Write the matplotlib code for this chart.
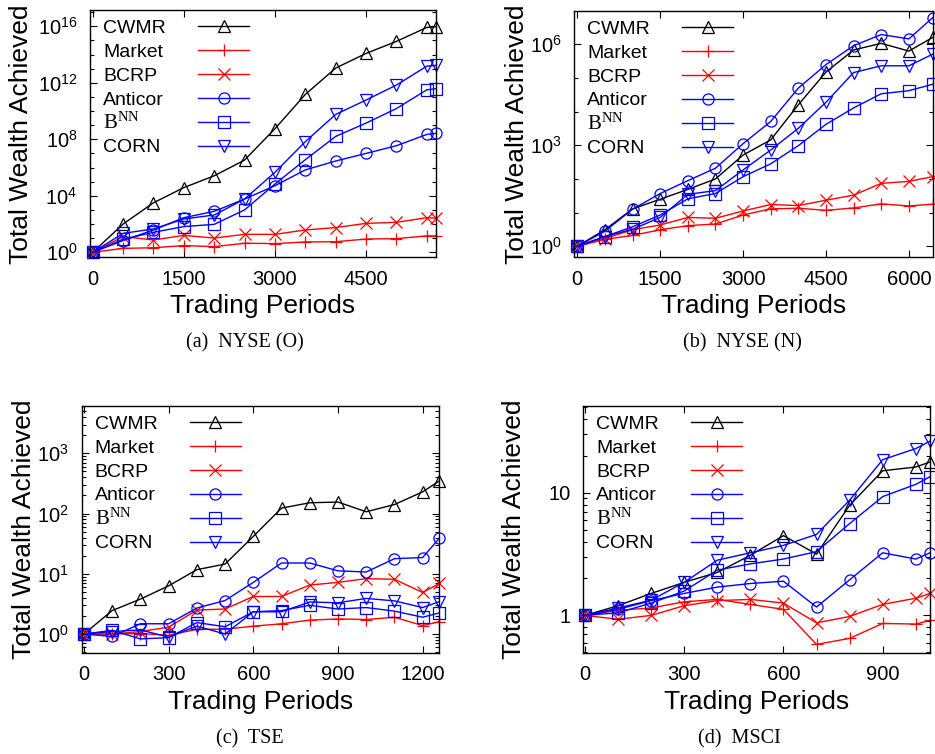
import matplotlib
matplotlib.use('Agg')
import matplotlib.pyplot as plt
from matplotlib import transforms
from matplotlib.ticker import FixedLocator, LogLocator, NullFormatter, FixedFormatter

plt.rcParams['font.family'] = ['Liberation Sans', 'DejaVu Sans']
plt.rcParams['mathtext.fontset'] = 'custom'
plt.rcParams['mathtext.rm'] = 'Liberation Serif'
plt.rcParams['mathtext.it'] = 'Liberation Serif:italic'
plt.rcParams['mathtext.bf'] = 'Liberation Serif:bold'

# strategies, same order in every panel
names = ['CWMR', 'Market', 'BCRP', 'Anticor', r'$\mathrm{B}^{\mathrm{NN}}$', 'CORN']
colors = ['black', 'red', 'red', 'blue', 'blue', 'blue']
markers = ['^', '+', 'x', 'o', 's', 'v']

# (a) NYSE (O)
x_a = [0, 500, 1000, 1500, 2000, 2500, 3000, 3500, 4000, 4500, 5000, 5500, 5651]
cwmr_a = [1, 1.0e2, 3.2e3, 3.8e4, 2.6e5, 3.4e6, 5.6e8, 1.5e11, 1.1e13, 1.2e14, 8.5e14, 8.3e15, 9.3e15]
market_a = [1, 1.9, 2.1, 3.0, 2.5, 4.4, 4.1, 5.4, 5.6, 8.7, 9.3, 14.5, 14.5]
bcrp_a = [1, 12.9, 7.4, 15.8, 10.2, 18.6, 18.6, 38, 56, 112, 132, 282, 257]
anticor_a = [1, 6.8, 38, 282, 794, 5.9e3, 5.2e4, 6.8e5, 2.9e6, 1.0e7, 3.5e7, 2.2e8, 2.6e8]
bnn_a = [1, 8.3, 26, 66, 95, 1.0e3, 6.8e4, 3.6e6, 1.6e8, 1.4e9, 1.5e10, 3.2e11, 3.8e11]
corn_a = [1, 22, 45, 229, 436, 5.9e3, 4.6e5, 6.8e7, 5.8e9, 6.0e10, 6.9e11, 1.5e13, 1.7e13]

# (b) NYSE (N)
x_b = [0, 500, 1000, 1500, 2000, 2500, 3000, 3500, 4000, 4500, 5000, 5500, 6000, 6431]
cwmr_b = [1, 3.1, 12.9, 25, 49, 100, 513, 1.45e3, 1.6e4, 1.5e5, 6.8e5, 1.07e6, 6.3e5, 1.6e6]
market_b = [1, 1.6, 2.1, 3.1, 4.1, 4.6, 8.5, 12.9, 13.5, 11.7, 13.8, 18.2, 15.8, 17.8]
bcrp_b = [1, 1.7, 3.1, 4.3, 7.2, 6.8, 11.2, 17.4, 16.2, 23.4, 33, 74, 85, 117]
anticor_b = [1, 2.8, 12.6, 37, 89, 209, 1.12e3, 5.1e3, 5.0e4, 2.5e5, 9.1e5, 1.95e6, 1.45e6, 6.2e6]
bnn_b = [1, 1.95, 3.8, 8.5, 25.7, 37, 117, 282, 977, 4.2e3, 1.29e4, 3.4e4, 4.2e4, 6.5e4]
corn_b = [1, 1.95, 3.2, 7.2, 35, 45, 186, 724, 3.2e3, 1.9e4, 1.45e5, 2.3e5, 2.3e5, 5.1e5]

# (c) TSE
x_c = [0, 100, 200, 300, 400, 500, 600, 700, 800, 900, 1000, 1100, 1200, 1259]
cwmr_c = [1, 2.45, 3.8, 6.3, 11.7, 14.5, 41.7, 123, 151, 155, 107, 141, 229, 347]
market_c = [1, 1.0, 1.02, 0.95, 1.2, 1.2, 1.35, 1.48, 1.7, 1.78, 1.74, 1.9, 1.38, 1.6]
bcrp_c = [1, 1.0, 1.1, 1.3, 2.5, 2.6, 4.2, 4.2, 6.5, 7.2, 8.3, 8.1, 4.9, 6.9]
anticor_c = [1, 0.91, 1.48, 1.48, 2.7, 3.6, 7.2, 15.1, 15.1, 11.2, 10.7, 17.8, 18.6, 38.9]
bnn_c = [1, 1.15, 0.83, 0.87, 1.55, 1.32, 2.34, 2.45, 3.0, 2.6, 2.75, 2.4, 1.9, 2.24]
corn_c = [1, 1.1, 1.17, 0.89, 1.35, 1.0, 2.34, 2.34, 3.4, 3.3, 3.9, 3.55, 2.75, 3.45]

# (d) MSCI
x_d = [0, 100, 200, 300, 400, 500, 600, 700, 800, 900, 1000, 1043]
cwmr_d = [1, 1.2, 1.51, 1.86, 2.24, 3.09, 4.47, 3.16, 7.9, 15.1, 16.2, 17.8]
market_d = [1, 1.1, 1.15, 1.29, 1.35, 1.23, 1.12, 0.58, 0.65, 0.86, 0.85, 0.91]
bcrp_d = [1, 0.93, 1.0, 1.2, 1.32, 1.35, 1.26, 0.87, 0.98, 1.23, 1.38, 1.51]
anticor_d = [1, 1.12, 1.32, 1.51, 1.7, 1.82, 1.9, 1.17, 1.95, 3.24, 2.88, 3.24]
bnn_d = [1, 1.05, 1.26, 1.58, 2.34, 2.63, 2.88, 3.31, 5.6, 9.3, 11.7, 13.5]
corn_d = [1, 1.15, 1.33, 1.86, 2.82, 3.24, 3.72, 4.57, 8.7, 18.6, 22.9, 26.3]

captions = ['(a)  NYSE (O)', '(b)  NYSE (N)', '(c)  TSE', '(d)  MSCI']
xticks_a = [0, 1500, 3000, 4500]
xticks_b = [0, 1500, 3000, 4500, 6000]
xticks_c = [0, 300, 600, 900, 1200]
xticks_d = [0, 300, 600, 900]
yticks_a = [1, 1e4, 1e8, 1e12, 1e16]
ylabels_a = ['0', '4', '8', '12', '16']
yticks_b = [1, 1e3, 1e6]
ylabels_b = ['0', '3', '6']
yticks_c = [1, 10, 100, 1000]
ylabels_c = ['0', '1', '2', '3']
yticks_d = [1, 10]
ylabels_d = ['1', '10']

panels = [
    dict(x=x_a, ys=[cwmr_a, market_a, bcrp_a, anticor_a, bnn_a, corn_a],
         rect=[90, 10.3, 346, 247], xlim=(-45, 5651), ylim=(10**-0.354, 10**17.13),
         xticks=xticks_a, yticks=yticks_a, ylab=['$\\mathdefault{10^{%s}}$' % s for s in ylabels_a],
         minor=[10.0**k for k in range(0, 18)], ylpos=69, cap=(245, 343)),
    dict(x=x_b, ys=[cwmr_b, market_b, bcrp_b, anticor_b, bnn_b, corn_b],
         rect=[574.3, 11, 358.4, 246.3], xlim=(-54, 6431), ylim=(10**-0.327, 10**6.99),
         xticks=xticks_b, yticks=yticks_b, ylab=['$\\mathdefault{10^{%s}}$' % s for s in ylabels_b],
         minor=[10.0**k for k in range(0, 8)], ylpos=57.6, cap=(742.5, 343)),
    dict(x=x_c, ys=[cwmr_c, market_c, bcrp_c, anticor_c, bnn_c, corn_c],
         rect=[81.7, 406, 357.6, 246.7], xlim=(-8, 1259), ylim=(10**-0.31, 10**3.785),
         xticks=xticks_c, yticks=yticks_c, ylab=['$\\mathdefault{10^{%s}}$' % s for s in ylabels_c],
         minor=None, ylpos=58, cap=(249.5, 739)),
    dict(x=x_d, ys=[cwmr_d, market_d, bcrp_d, anticor_d, bnn_d, corn_d],
         rect=[583.3, 406, 346.7, 246.7], xlim=(-5, 1043), ylim=(10**-0.304, 10**1.707),
         xticks=xticks_d, yticks=yticks_d, ylab=ylabels_d,
         minor=None, ylpos=69.3, cap=(739.7, 739)),
]

W, H = 935, 754
fig = plt.figure(figsize=(W / 100, H / 100), dpi=100)

for p in panels:
    l, t, w, h = p['rect']
    ax = fig.add_axes([l / W, 1 - (t + h) / H, w / W, h / H])
    ax.set_yscale('log')
    for y, c, m in zip(p['ys'], colors, markers):
        ax.plot(p['x'], y, color=c, marker=m, lw=1.0, ms=8, mew=0.9,
                fillstyle='none', clip_on=False)
    ax.set_xlim(*p['xlim'])
    ax.set_ylim(*p['ylim'])
    ax.set_xticks(p['xticks'])
    ax.yaxis.set_major_locator(FixedLocator(p['yticks']))
    ax.yaxis.set_major_formatter(FixedFormatter(p['ylab']))
    if p['minor'] is not None:
        ax.yaxis.set_minor_locator(FixedLocator(p['minor']))
    else:
        ax.yaxis.set_minor_locator(LogLocator(base=10, subs=range(2, 10), numticks=20))
    ax.yaxis.set_minor_formatter(NullFormatter())
    ax.tick_params(which='both', direction='in', top=True, right=True, width=0.8)
    ax.tick_params(which='major', length=5, labelsize=14.5, pad=9)
    ax.tick_params(which='minor', length=3)
    for s in ax.spines.values():
        s.set_linewidth(1.0)

    ax.set_xlabel('Trading Periods', fontsize=19, va='center')
    ax.xaxis.set_label_coords(0.5, -49 / h)
    ax.set_ylabel('Total Wealth Achieved', fontsize=19, va='center')
    ax.yaxis.set_label_coords(-p['ylpos'] / w, 0.5)

    # gnuplot style key: text first, sample line after
    tr = fig.dpi_scale_trans + transforms.ScaledTranslation(0, 1, ax.transAxes)
    for i, (nm, c, m) in enumerate(zip(names, colors, markers)):
        yy = -(16 + 23.9 * i) / 100
        fs = 15 if i == 4 else 14
        ax.text(0.13, yy - 0.067, nm, transform=tr, fontsize=fs, ha='left', va='baseline')
        ax.plot([1.08, 1.59], [yy, yy], transform=tr, color=c, lw=1.0)
        ax.plot([1.335], [yy], transform=tr, color=c, marker=m, ms=8, mew=0.9,
                fillstyle='none')

    fig.text(p['cap'][0] / W, 1 - p['cap'][1] / H, captions[panels.index(p)],
             family='Liberation Serif', fontsize=14.5, ha='center', va='center')

fig.savefig('out.png', dpi=100)
